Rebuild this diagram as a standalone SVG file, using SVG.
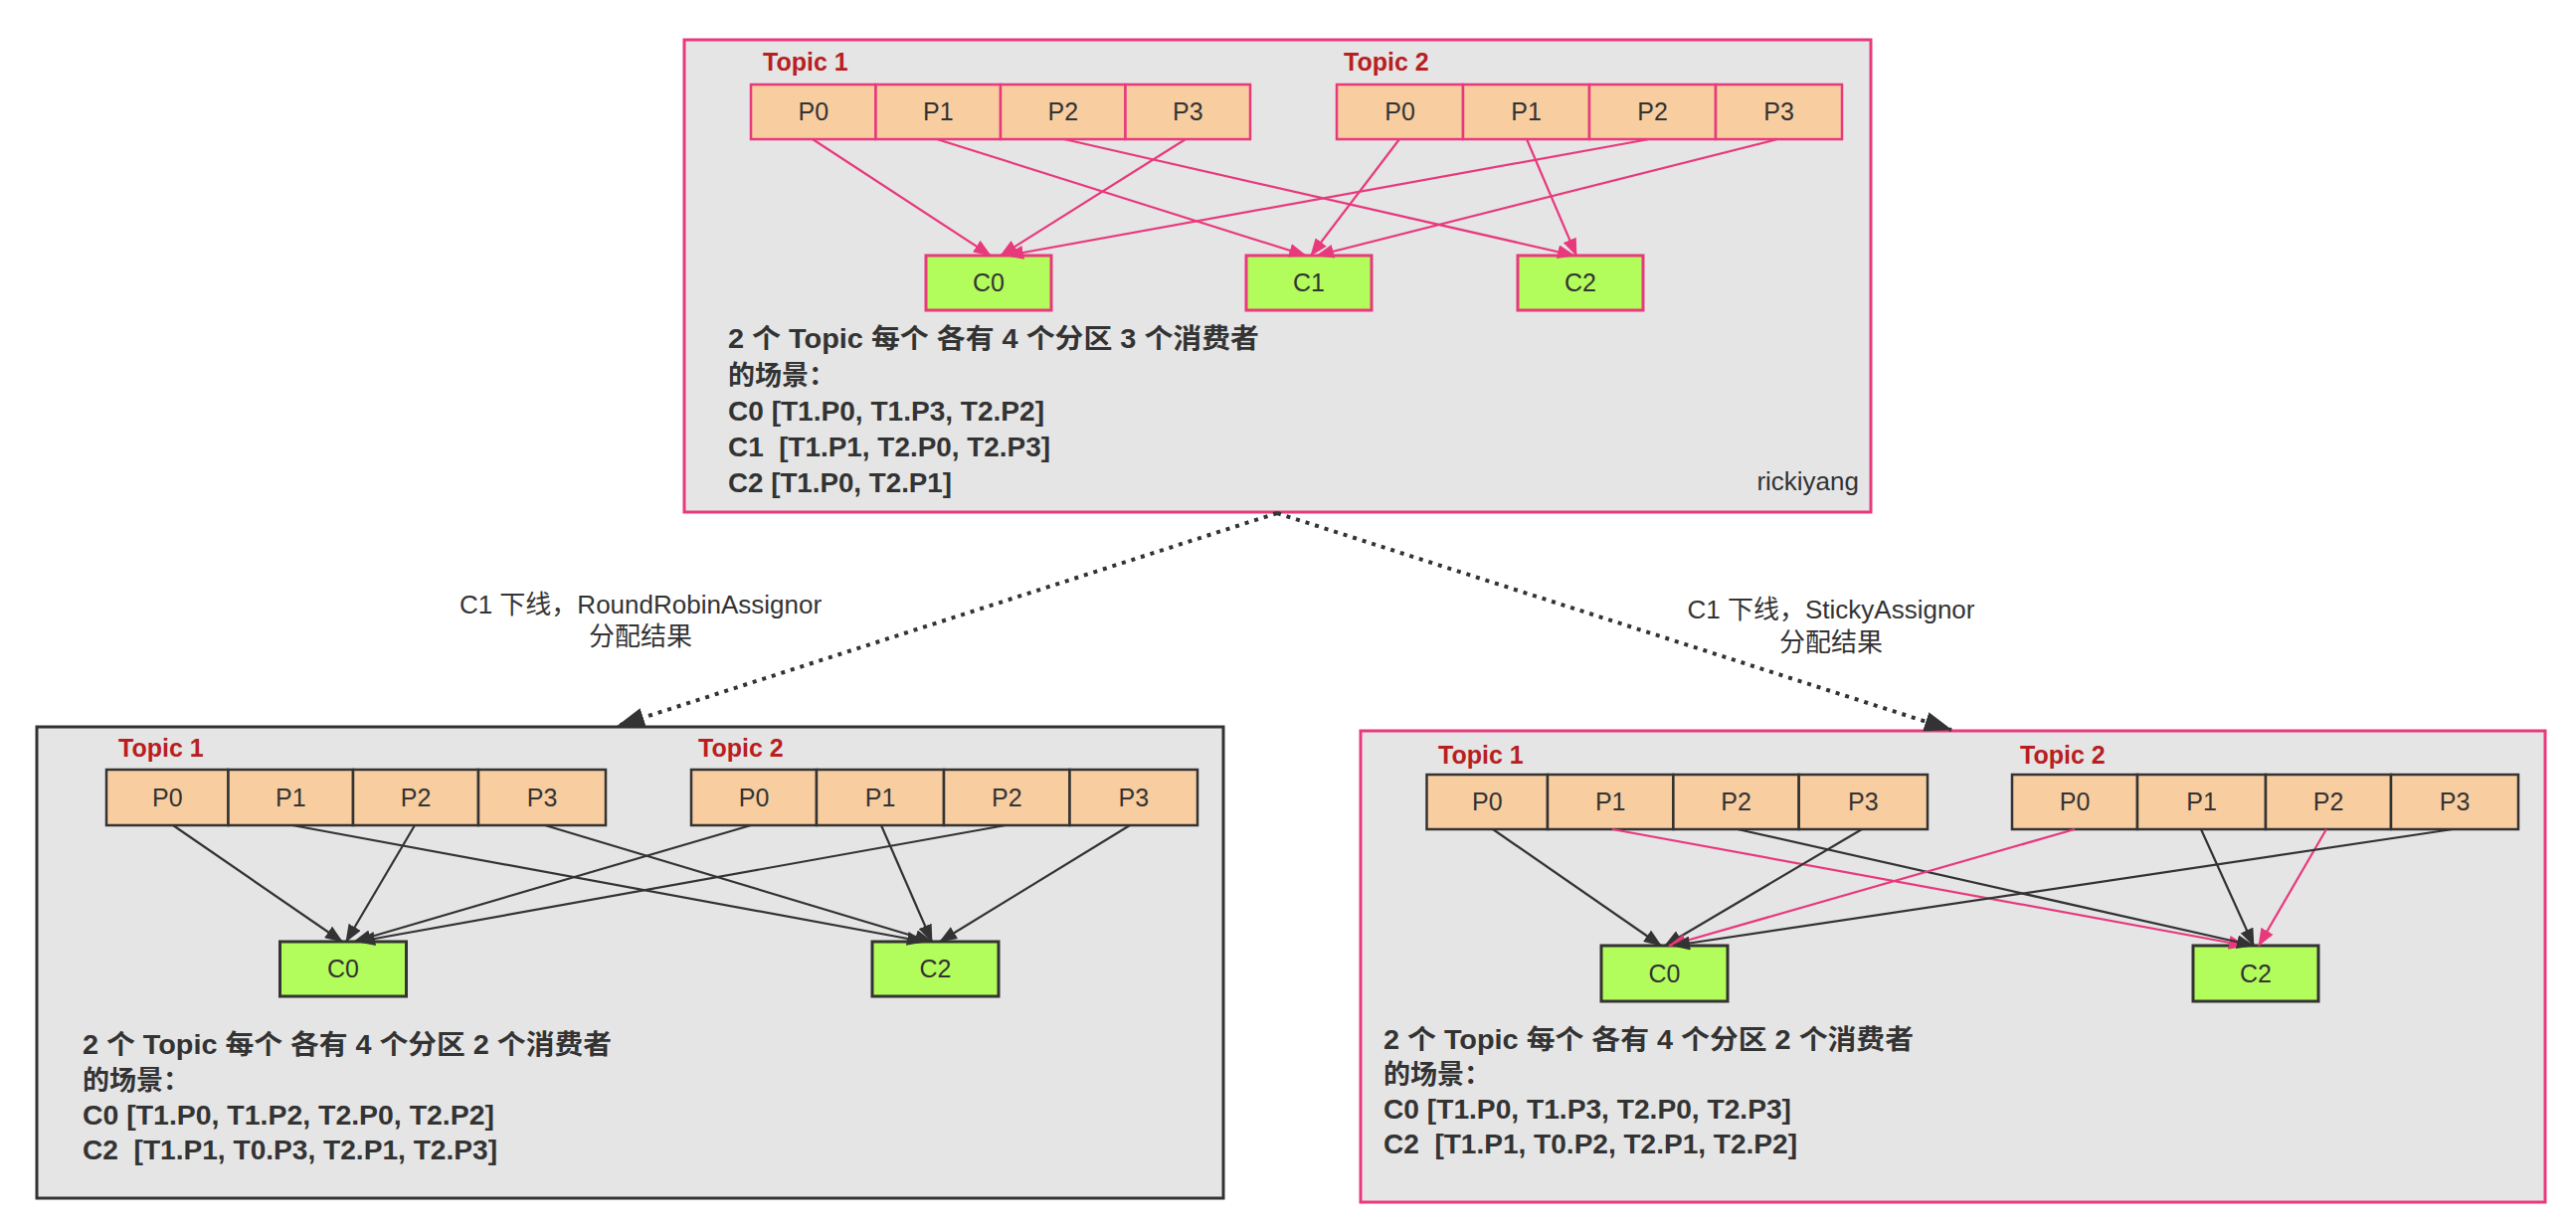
<svg xmlns="http://www.w3.org/2000/svg" width="2590" height="1236" viewBox="0 0 2590 1236">
<style>
.bg{fill:#ffffff}
.boxP{fill:#e5e5e5;stroke:#e8397d;stroke-width:3}
.boxD{fill:#e5e5e5;stroke:#333333;stroke-width:3}
.cellP{fill:#f8cda0;stroke:#e8397d;stroke-width:2.5}
.cellD{fill:#f8cda0;stroke:#333333;stroke-width:2.5}
.consP{fill:#b2fc5c;stroke:#e8397d;stroke-width:3}
.consD{fill:#b2fc5c;stroke:#333333;stroke-width:3}
.topic{font-family:"Liberation Sans","Noto Sans CJK SC",sans-serif;font-size:25px;font-weight:bold;fill:#b8201f}
.lbl{font-family:"Liberation Sans","Noto Sans CJK SC",sans-serif;font-size:25px;fill:#333333;text-anchor:middle}
.desc{font-family:"Liberation Sans","Noto Sans CJK SC",sans-serif;font-size:27px;font-weight:bold;fill:#333333}
.note{font-family:"Liberation Sans","Noto Sans CJK SC",sans-serif;font-size:26px;fill:#333333;text-anchor:middle}
.sig{font-family:"Liberation Sans","Noto Sans CJK SC",sans-serif;font-size:26px;fill:#333333;text-anchor:end}
.lp{fill:none;stroke:#e8397d;stroke-width:2.2;marker-end:url(#ap)}
.ld{fill:none;stroke:#333333;stroke-width:2.2;marker-end:url(#ad)}
.dot{fill:none;stroke:#333333;stroke-width:4;stroke-dasharray:4 6;marker-end:url(#ab)}
</style>
<defs>
<marker id="ap" markerUnits="userSpaceOnUse" markerWidth="18" markerHeight="14" refX="17" refY="7" orient="auto"><path d="M0,0 L18,7 L0,14 z" fill="#e8397d"/></marker>
<marker id="ad" markerUnits="userSpaceOnUse" markerWidth="18" markerHeight="14" refX="17" refY="7" orient="auto"><path d="M0,0 L18,7 L0,14 z" fill="#333333"/></marker>
<marker id="ab" markerUnits="userSpaceOnUse" markerWidth="28" markerHeight="20" refX="27" refY="10" orient="auto"><path d="M0,0 L28,10 L0,20 z" fill="#333333"/></marker>
</defs>
<rect class="bg" x="0" y="0" width="2590" height="1236"/>

<!-- Top box: 3 consumers -->
<g id="box-top">
<rect class="boxP" x="688" y="40" width="1193" height="475"/>
<text class="topic" x="767" y="71">Topic 1</text>
<text class="topic" x="1351" y="71">Topic 2</text>
<text class="desc" x="732" y="350" textLength="534" lengthAdjust="spacingAndGlyphs">2 个 Topic 每个 各有 4 个分区 3 个消费者</text>
<text class="desc" x="732" y="387">的场景：</text>
<text class="desc" x="732" y="423" textLength="318" lengthAdjust="spacingAndGlyphs">C0 [T1.P0, T1.P3, T2.P2]</text>
<text class="desc" x="732" y="459" textLength="324" lengthAdjust="spacingAndGlyphs">C1 &#160;[T1.P1, T2.P0, T2.P3]</text>
<text class="desc" x="732" y="495" textLength="225" lengthAdjust="spacingAndGlyphs">C2 [T1.P0, T2.P1]</text>
<text class="sig" x="1869" y="493">rickiyang</text>
</g>
<g id="top-t1-p0"><rect class="cellP" x="755" y="85" width="125.5" height="55"/><text class="lbl" x="817.8" y="121">P0</text></g>
<g id="top-t1-p1"><rect class="cellP" x="880.5" y="85" width="125.5" height="55"/><text class="lbl" x="943.3" y="121">P1</text></g>
<g id="top-t1-p2"><rect class="cellP" x="1006" y="85" width="125.5" height="55"/><text class="lbl" x="1068.8" y="121">P2</text></g>
<g id="top-t1-p3"><rect class="cellP" x="1131.5" y="85" width="125.5" height="55"/><text class="lbl" x="1194.3" y="121">P3</text></g>
<g id="top-t2-p0"><rect class="cellP" x="1344" y="85" width="127" height="55"/><text class="lbl" x="1407.5" y="121">P0</text></g>
<g id="top-t2-p1"><rect class="cellP" x="1471" y="85" width="127" height="55"/><text class="lbl" x="1534.5" y="121">P1</text></g>
<g id="top-t2-p2"><rect class="cellP" x="1598" y="85" width="127" height="55"/><text class="lbl" x="1661.5" y="121">P2</text></g>
<g id="top-t2-p3"><rect class="cellP" x="1725" y="85" width="127" height="55"/><text class="lbl" x="1788.5" y="121">P3</text></g>
<g id="top-c0"><rect class="consP" x="931" y="257" width="126" height="55"/><text class="lbl" x="994" y="293" font-size="26">C0</text></g>
<g id="top-c1"><rect class="consP" x="1253" y="257" width="126" height="55"/><text class="lbl" x="1316" y="293" font-size="26">C1</text></g>
<g id="top-c2"><rect class="consP" x="1526" y="257" width="126" height="55"/><text class="lbl" x="1589" y="293" font-size="26">C2</text></g>

<!-- Bottom left box: RoundRobin -->
<g id="box-rr">
<rect class="boxD" x="37" y="731" width="1193" height="474"/>
<text class="topic" x="119" y="761">Topic 1</text>
<text class="topic" x="702" y="761">Topic 2</text>
<text class="desc" x="83" y="1060" textLength="532" lengthAdjust="spacingAndGlyphs">2 个 Topic 每个 各有 4 个分区 2 个消费者</text>
<text class="desc" x="83" y="1096">的场景：</text>
<text class="desc" x="83" y="1131" textLength="414" lengthAdjust="spacingAndGlyphs">C0 [T1.P0, T1.P2, T2.P0, T2.P2]</text>
<text class="desc" x="83" y="1166" textLength="417" lengthAdjust="spacingAndGlyphs">C2 &#160;[T1.P1, T0.P3, T2.P1, T2.P3]</text>
</g>
<g id="rr-t1-p0"><rect class="cellD" x="107" y="774" width="122.5" height="56"/><text class="lbl" x="168.3" y="811">P0</text></g>
<g id="rr-t1-p1"><rect class="cellD" x="229.5" y="774" width="125.5" height="56"/><text class="lbl" x="292.3" y="811">P1</text></g>
<g id="rr-t1-p2"><rect class="cellD" x="355" y="774" width="126" height="56"/><text class="lbl" x="418" y="811">P2</text></g>
<g id="rr-t1-p3"><rect class="cellD" x="481" y="774" width="128" height="56"/><text class="lbl" x="545" y="811">P3</text></g>
<g id="rr-t2-p0"><rect class="cellD" x="695" y="774" width="126" height="56"/><text class="lbl" x="758" y="811">P0</text></g>
<g id="rr-t2-p1"><rect class="cellD" x="821" y="774" width="128" height="56"/><text class="lbl" x="885" y="811">P1</text></g>
<g id="rr-t2-p2"><rect class="cellD" x="949" y="774" width="126.5" height="56"/><text class="lbl" x="1012.3" y="811">P2</text></g>
<g id="rr-t2-p3"><rect class="cellD" x="1075.5" y="774" width="128.5" height="56"/><text class="lbl" x="1139.8" y="811">P3</text></g>
<g id="rr-c0"><rect class="consD" x="281.5" y="947" width="127" height="55"/><text class="lbl" x="345" y="983" font-size="26">C0</text></g>
<g id="rr-c2"><rect class="consD" x="877" y="947" width="127" height="55"/><text class="lbl" x="940.5" y="983" font-size="26">C2</text></g>

<!-- Bottom right box: Sticky -->
<g id="box-sticky">
<rect class="boxP" x="1368" y="735" width="1191" height="474"/>
<text class="topic" x="1446" y="768">Topic 1</text>
<text class="topic" x="2031" y="768">Topic 2</text>
<text class="desc" x="1391" y="1055" textLength="533" lengthAdjust="spacingAndGlyphs">2 个 Topic 每个 各有 4 个分区 2 个消费者</text>
<text class="desc" x="1391" y="1090">的场景：</text>
<text class="desc" x="1391" y="1125" textLength="410" lengthAdjust="spacingAndGlyphs">C0 [T1.P0, T1.P3, T2.P0, T2.P3]</text>
<text class="desc" x="1391" y="1160" textLength="416" lengthAdjust="spacingAndGlyphs">C2 &#160;[T1.P1, T0.P2, T2.P1, T2.P2]</text>
</g>
<g id="st-t1-p0"><rect class="cellD" x="1434.5" y="779" width="121.5" height="55"/><text class="lbl" x="1495.3" y="815">P0</text></g>
<g id="st-t1-p1"><rect class="cellD" x="1556" y="779" width="126.4" height="55"/><text class="lbl" x="1619.2" y="815">P1</text></g>
<g id="st-t1-p2"><rect class="cellD" x="1682.4" y="779" width="126.3" height="55"/><text class="lbl" x="1745.6" y="815">P2</text></g>
<g id="st-t1-p3"><rect class="cellD" x="1808.7" y="779" width="129.3" height="55"/><text class="lbl" x="1873.4" y="815">P3</text></g>
<g id="st-t2-p0"><rect class="cellD" x="2023" y="779" width="126" height="55"/><text class="lbl" x="2086" y="815">P0</text></g>
<g id="st-t2-p1"><rect class="cellD" x="2149" y="779" width="129" height="55"/><text class="lbl" x="2213.5" y="815">P1</text></g>
<g id="st-t2-p2"><rect class="cellD" x="2278" y="779" width="126" height="55"/><text class="lbl" x="2341" y="815">P2</text></g>
<g id="st-t2-p3"><rect class="cellD" x="2404" y="779" width="128" height="55"/><text class="lbl" x="2468" y="815">P3</text></g>
<g id="st-c0"><rect class="consD" x="1610" y="951" width="127" height="56"/><text class="lbl" x="1673.5" y="988" font-size="26">C0</text></g>
<g id="st-c2"><rect class="consD" x="2205" y="951" width="126" height="56"/><text class="lbl" x="2268" y="988" font-size="26">C2</text></g>

<!-- connector labels -->
<g id="label-rr"><text class="note" x="644" y="617">C1 下线，RoundRobinAssignor</text><text class="note" x="644" y="649">分配结果</text></g>
<g id="label-sticky"><text class="note" x="1841" y="622">C1 下线，StickyAssignor</text><text class="note" x="1841" y="655">分配结果</text></g>

<g id="connectors">
<path class="dot" d="M1284,516 L621,730"/>
<path class="dot" d="M1284,516 L1962,734"/>

<path class="lp" d="M817,140 L996,257"/>
<path class="lp" d="M942,140 L1313,257"/>
<path class="lp" d="M1070,140 L1583,257"/>
<path class="lp" d="M1192,140 L1006,257"/>
<path class="lp" d="M1407,140 L1318,257"/>
<path class="lp" d="M1535,140 L1585,257"/>
<path class="lp" d="M1658,140 L1012,257"/>
<path class="lp" d="M1787,140 L1324,257"/>

<path class="ld" d="M174,830 L344,947"/>
<path class="ld" d="M294,830 L929,947"/>
<path class="ld" d="M417,830 L348,947"/>
<path class="ld" d="M548,830 L937,947"/>
<path class="ld" d="M755,830 L356,947"/>
<path class="ld" d="M886,830 L937,947"/>
<path class="ld" d="M1011,830 L360,947"/>
<path class="ld" d="M1136,830 L945,947"/>

<path class="ld" d="M1501,834 L1670,951"/>
<path class="lp" d="M1621,834 L2258,951"/>
<path class="ld" d="M1747,834 L2266,951"/>
<path class="ld" d="M1872,834 L1674,951"/>
<path class="lp" d="M2086,834 L1678,951"/>
<path class="ld" d="M2213,834 L2266,951"/>
<path class="lp" d="M2339,834 L2271,951"/>
<path class="ld" d="M2466,834 L1682,951"/>
</g>
</svg>
